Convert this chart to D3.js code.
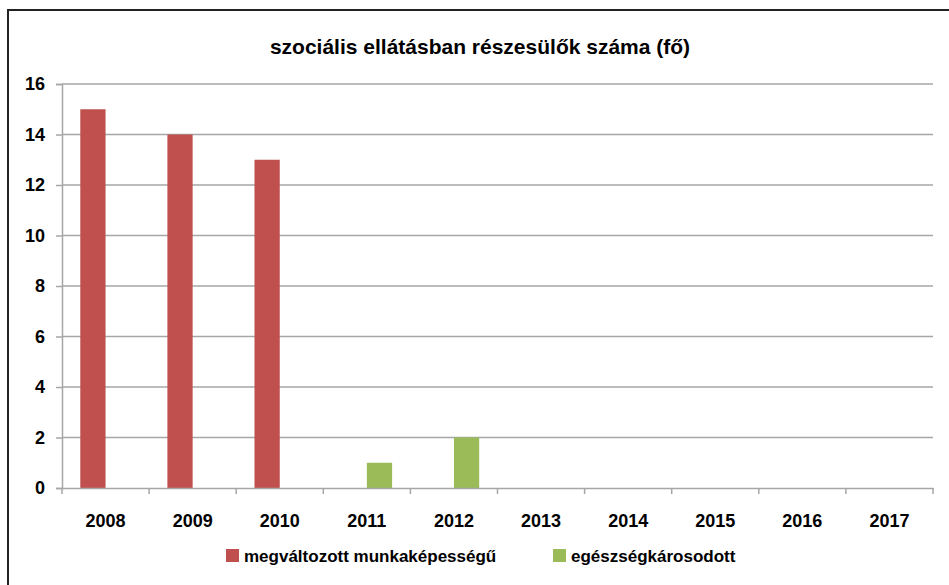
<!DOCTYPE html>
<html>
<head>
<meta charset="utf-8">
<script src="https://cdn.jsdelivr.net/npm/d3@7"></script>
<style>
  body { margin: 0; background: #fff; }
  text { font-family: "Liberation Sans Narrow", "Arial Narrow", "Liberation Sans", sans-serif; font-weight: bold; fill: #000; }
</style>
</head>
<body>
<svg class="chart" width="949" height="585"></svg>
<script>
// categories and series
const years = ["2008", "2009", "2010", "2011", "2012", "2013", "2014", "2015", "2016", "2017"];
const seriesNames = ["megváltozott munkaképességű", "egészségkárosodott"];
const munkakepesseg = [15, 14, 13, 0, 0, 0, 0, 0, 0, 0];
const egeszseg = [0, 0, 0, 1, 2, 0, 0, 0, 0, 0];
const yTicks = [0, 2, 4, 6, 8, 10, 12, 14, 16];
const colors = ["#C0504D", "#9BBB59"];

const svg = d3.select("svg.chart");
const plot = {left: 62, right: 933, top: 84, bottom: 488};

// outer frame (only left and top visible in the picture)
svg.append("rect")
  .attr("x", 8).attr("y", 10)
  .attr("width", 960).attr("height", 600)
  .attr("fill", "none").attr("stroke", "#222").attr("stroke-width", 2);

svg.append("text")
  .attr("x", 480).attr("y", 54)
  .attr("text-anchor", "middle")
  .style("font-size", "21px")
  .text("szociális ellátásban részesülők száma (fő)");

let x = d3.scaleBand().domain(years).range([plot.left, plot.right]);
// two bars side by side, centred in each year band
let x1 = d3.scaleBand().domain([0, 1]).range([x.bandwidth() * 0.21, x.bandwidth() * 0.79]);
let y = d3.scaleLinear().domain([0, 16]).range([plot.bottom, plot.top]);

// gridlines
svg.append("g")
  .selectAll("line")
  .data(yTicks.filter(d => d > 0))
  .enter().append("line")
    .attr("x1", plot.left).attr("x2", plot.right)
    .attr("y1", d => y(d)).attr("y2", d => y(d))
    .attr("stroke", "#a6a6a6").attr("stroke-width", 1.5);

// y axis
let yAxis = svg.append("g")
  .attr("transform", `translate(${plot.left},0)`)
  .call(d3.axisLeft(y).tickValues(yTicks).tickSize(6).tickPadding(11));
yAxis.selectAll("path, line").attr("stroke", "#a6a6a6").attr("stroke-width", 1.5);
yAxis.selectAll("text").style("font-size", "18px").attr("fill", "#000");

// bars
const rows = years.map((yr, i) => ({year: yr, values: [munkakepesseg[i], egeszseg[i]]}));
svg.append("g")
  .selectAll("g")
  .data(rows)
  .enter().append("g")
    .attr("transform", d => `translate(${x(d.year)},0)`)
  .selectAll("rect")
  .data(d => d.values.map((v, k) => ({k, v})))
  .enter().append("rect")
    .attr("x", d => x1(d.k))
    .attr("width", x1.bandwidth())
    .attr("y", d => y(d.v))
    .attr("height", d => y(0) - y(d.v))
    .attr("fill", d => colors[d.k]);

// x axis
let xAxis = svg.append("g")
  .attr("transform", `translate(0,${plot.bottom})`)
  .call(d3.axisBottom(x).tickSize(0).tickPadding(26));
xAxis.select("path").attr("stroke", "#a6a6a6").attr("stroke-width", 1.5);
xAxis.selectAll("text").style("font-size", "18px").attr("fill", "#000");
xAxis.append("g")
  .selectAll("line")
  .data(years.map(d => x(d)).concat([plot.right]))
  .enter().append("line")
    .attr("x1", d => d).attr("x2", d => d)
    .attr("y1", 0).attr("y2", 6)
    .attr("stroke", "#a6a6a6").attr("stroke-width", 1.5);

// legend
const legendX = [226, 553];
let legend = svg.append("g")
  .selectAll("g")
  .data(seriesNames)
  .enter().append("g")
    .attr("transform", (d, i) => `translate(${legendX[i]},549)`);
legend.append("rect")
  .attr("width", 13).attr("height", 13)
  .attr("fill", (d, i) => colors[i]);
legend.append("text")
  .attr("x", 18).attr("y", 13)
  .style("font-size", "17px")
  .text(d => d);
</script>
</body>
</html>
